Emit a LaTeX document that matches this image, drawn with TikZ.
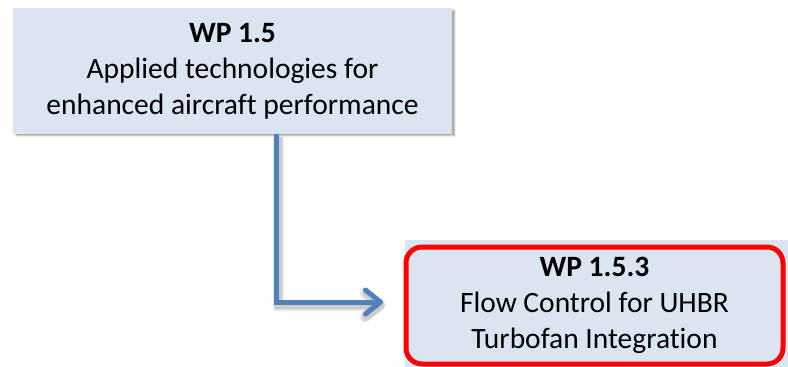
\documentclass[tikz,border=0pt]{standalone}
\usepackage{fontspec}
\setmainfont{Carlito}[Ligatures=NoCommon]
\usetikzlibrary{arrows.meta,calc}
\definecolor{boxfill}{HTML}{DBE5F1}
\definecolor{linkblue}{HTML}{4F81BD}
\begin{document}
\begin{tikzpicture}[x=1pt,y=-1pt,
  wptext/.style={inner sep=0pt, align=center, font=\fontsize{29.5}{36}\selectfont},
  parentbox/.style={wptext, fill=boxfill, minimum width=439pt, minimum height=126pt},
  childbox/.style={wptext, draw=red, line width=5pt, rounded corners=16pt,
                   minimum width=377pt, minimum height=117pt},
  link/.style={draw=linkblue, line width=5pt,
               -{Straight Barb[round, length=15pt, width=24pt]}},
  linkshadow/.style={draw=black, line width=#1, opacity=0.07,
               -{Straight Barb[round, length=15pt, width=24pt]}},
]
\useasboundingbox (0,0) rectangle (788,367);

% soft drop shadow of the parent box
\foreach \s in {0,1,2,3,4,5}
  \fill[black, opacity=0.07]
    (15+\s*0.6, 9+\s*0.6) rectangle (456-\s*0.6, 137-\s*0.6);

% parent work package
\node[parentbox] (wp) at (232.5,71)
  {\textbf{WP 1.5}\\Applied technologies for\\enhanced aircraft performance};

% background panel behind the sub work package
\fill[boxfill] (405,240) rectangle (788,367);

% sub work package, highlighted in red
\node[childbox] (wp3) at (594.5,305.5)
  {\textbf{WP 1.5.3}\\Flow Control for UHBR\\Turbofan Integration};

% connector from parent to sub work package
\coordinate (from) at ($(wp.south west)!0.601!(wp.south east)$);
\coordinate (tip) at (383,302);
\foreach \w in {11pt,9pt,7pt}
  \draw[linkshadow=\w] ([shift={(2,3)}]from) |- ([shift={(2,3)}]tip);
\draw[link] (from) |- (tip);
\end{tikzpicture}
\end{document}
